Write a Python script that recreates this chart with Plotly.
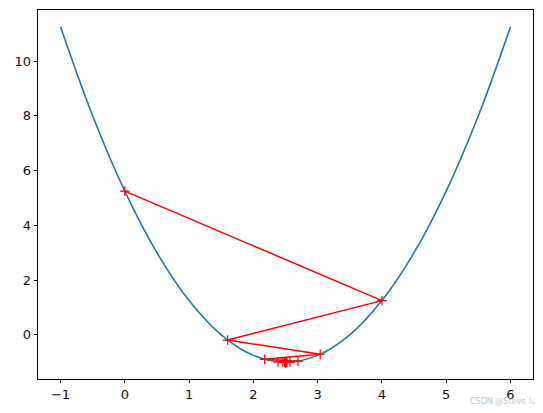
import plotly.graph_objects as go

# Curve points
curve_x = [-1.0, -0.5, 0.0, 0.5, 1.0, 1.5, 2.0, 2.5, 3.0, 3.5, 4.0, 4.5, 5.0, 5.5, 6.0]
curve_y = [11.25, 8.0, 5.25, 3.0, 1.25, 0.0, -0.75, -1.0, -0.75, 0.0, 1.25, 3.0, 5.25, 8.0, 11.25]

# Descent path points
path_x = [0.0, 4.0, 1.6, 3.04, 2.176, 2.694, 2.383, 2.570, 2.458, 2.525, 2.485,
          2.509, 2.495, 2.503, 2.498, 2.501, 2.4994, 2.5004]
path_y = [5.25, 1.25, -0.19, -0.708, -0.895, -0.962, -0.986, -0.995, -0.998, -0.999,
          -0.9998, -0.9999, -1.0, -1.0, -1.0, -1.0, -1.0, -1.0]

x_ticks = [-1, 0, 1, 2, 3, 4, 5, 6]
y_ticks = [0, 2, 4, 6, 8, 10]

fig = go.Figure()
fig.add_trace(go.Scatter(x=curve_x, y=curve_y, mode="lines",
                         line=dict(color="#1f77b4", width=1.6, shape="spline"),
                         showlegend=False))
fig.add_trace(go.Scatter(x=path_x, y=path_y, mode="lines+markers",
                         line=dict(color="red", width=1.5),
                         marker=dict(symbol="cross-thin", size=7,
                                     line=dict(color="red", width=1.2)),
                         showlegend=False))

axis_common = dict(showgrid=False, zeroline=False, showline=True, linecolor="black",
                   linewidth=0.9, mirror=True, ticks="outside", ticklen=3.5,
                   tickwidth=0.9, tickcolor="black", automargin=False,
                   tickfont=dict(family="DejaVu Sans", size=13, color="#111111"))

fig.update_xaxes(range=[-1.35, 6.35], tickvals=x_ticks,
                 ticktext=["\u22121", "0", "1", "2", "3", "4", "5", "6"], **axis_common)
fig.update_yaxes(range=[-1.6125, 11.8625], tickvals=y_ticks, **axis_common)

fig.add_annotation(text="CSDN @Steve lu", x=1.0, y=0, xref="paper", yref="paper",
                   xanchor="right", yanchor="top", xshift=5, yshift=-16,
                   showarrow=False, font=dict(family="DejaVu Sans", size=8, color="#c8c8c8"))

# the page body adds an 8px margin, so the figure is sized to end at the window edge
fig.update_layout(width=535, height=405, margin=dict(l=30, r=10, t=2, b=34, autoexpand=False),
                  plot_bgcolor="white", paper_bgcolor="white")

fig.write_html("out.html")
